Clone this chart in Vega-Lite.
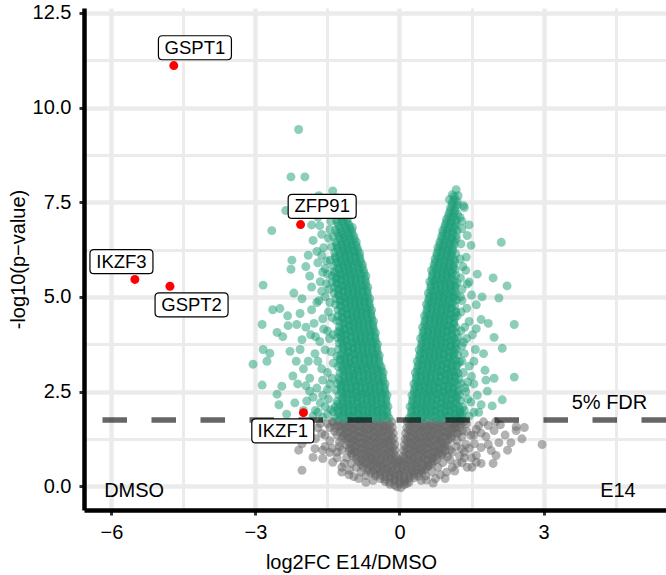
{
"$schema": "https://vega.github.io/schema/vega-lite/v6.json",
"width": 582, "height": 502,
"autosize": {"type": "none"},
"padding": {"left": 84, "top": 8, "right": 0, "bottom": 65},
"background": "white",
"config": {"view": {"stroke": null}, "font": "Liberation Sans"},
"datasets": {
"pts": [
{"x":-0.16,"y":1.7},{"x":-0.26,"y":1.73},{"x":-0.36,"y":1.68},{"x":-0.46,"y":1.72},{"x":-0.56,"y":1.67},{"x":-0.66,"y":1.71},{"x":-0.76,"y":1.69},{"x":-0.86,"y":1.73},{"x":-0.96,"y":1.68},{"x":-1.06,"y":1.71},{"x":-1.16,"y":1.67},{"x":-1.27,"y":1.72},{"x":-1.38,"y":1.69},
{"x":0.16,"y":1.71},{"x":0.26,"y":1.68},{"x":0.36,"y":1.73},{"x":0.46,"y":1.69},{"x":0.56,"y":1.72},{"x":0.66,"y":1.67},{"x":0.76,"y":1.71},{"x":0.86,"y":1.68},{"x":0.96,"y":1.73},{"x":1.06,"y":1.7},{"x":1.16,"y":1.67},{"x":1.26,"y":1.72},
{"x":-0.21,"y":1.62},{"x":-0.31,"y":1.6},{"x":-0.41,"y":1.64},{"x":-0.51,"y":1.61},{"x":-0.61,"y":1.63},{"x":-0.71,"y":1.59},{"x":-0.81,"y":1.63},{"x":-0.91,"y":1.6},{"x":-1.01,"y":1.64},{"x":-1.11,"y":1.61},{"x":-1.21,"y":1.62},
{"x":0.21,"y":1.61},{"x":0.31,"y":1.64},{"x":0.41,"y":1.6},{"x":0.51,"y":1.63},{"x":0.61,"y":1.59},{"x":0.71,"y":1.62},{"x":0.81,"y":1.64},{"x":0.91,"y":1.6},{"x":1.01,"y":1.63},{"x":1.11,"y":1.61},{"x":1.2,"y":1.64},
{"x":-0.15,"y":1.55},{"x":-0.25,"y":1.53},{"x":-0.35,"y":1.57},{"x":-0.45,"y":1.54},{"x":-0.55,"y":1.56},{"x":-0.65,"y":1.52},{"x":-0.75,"y":1.55},{"x":-0.85,"y":1.57},{"x":-0.95,"y":1.53},{"x":-1.05,"y":1.56},{"x":-1.15,"y":1.54},{"x":-1.25,"y":1.57},
{"x":0.15,"y":1.54},{"x":0.25,"y":1.57},{"x":0.35,"y":1.53},{"x":0.45,"y":1.56},{"x":0.55,"y":1.54},{"x":0.65,"y":1.57},{"x":0.75,"y":1.52},{"x":0.85,"y":1.55},{"x":0.95,"y":1.57},{"x":1.05,"y":1.53},{"x":1.15,"y":1.56},
{"x":-0.19,"y":1.47},{"x":-0.29,"y":1.49},{"x":-0.39,"y":1.45},{"x":-0.49,"y":1.48},{"x":-0.59,"y":1.46},{"x":-0.69,"y":1.49},{"x":-0.79,"y":1.45},{"x":-0.89,"y":1.47},{"x":-0.99,"y":1.49},{"x":-1.09,"y":1.46},{"x":-1.19,"y":1.48},
{"x":0.19,"y":1.48},{"x":0.29,"y":1.45},{"x":0.39,"y":1.49},{"x":0.49,"y":1.46},{"x":0.59,"y":1.48},{"x":0.69,"y":1.45},{"x":0.79,"y":1.49},{"x":0.89,"y":1.47},{"x":0.99,"y":1.45},{"x":1.09,"y":1.48},
{"x":-0.13,"y":1.4},{"x":-0.23,"y":1.38},{"x":-0.33,"y":1.42},{"x":-0.43,"y":1.39},{"x":-0.53,"y":1.41},{"x":-0.63,"y":1.37},{"x":-0.73,"y":1.4},{"x":-0.83,"y":1.42},{"x":-0.93,"y":1.38},{"x":-1.03,"y":1.41},{"x":-1.13,"y":1.39},{"x":-1.23,"y":1.42},
{"x":0.13,"y":1.39},{"x":0.23,"y":1.42},{"x":0.33,"y":1.38},{"x":0.43,"y":1.41},{"x":0.53,"y":1.4},{"x":0.63,"y":1.37},{"x":0.73,"y":1.41},{"x":0.83,"y":1.39},{"x":0.93,"y":1.42},{"x":1.03,"y":1.38},{"x":1.13,"y":1.4},
{"x":-0.17,"y":1.32},{"x":-0.27,"y":1.3},{"x":-0.37,"y":1.34},{"x":-0.47,"y":1.31},{"x":-0.57,"y":1.33},{"x":-0.67,"y":1.3},{"x":-0.77,"y":1.34},{"x":-0.87,"y":1.31},{"x":-0.97,"y":1.33},{"x":-1.07,"y":1.3},{"x":-1.17,"y":1.33},
{"x":0.17,"y":1.31},{"x":0.27,"y":1.34},{"x":0.37,"y":1.3},{"x":0.47,"y":1.33},{"x":0.57,"y":1.31},{"x":0.67,"y":1.34},{"x":0.77,"y":1.3},{"x":0.87,"y":1.32},{"x":0.97,"y":1.34},{"x":1.07,"y":1.31},
{"x":-0.12,"y":1.25},{"x":-0.22,"y":1.23},{"x":-0.32,"y":1.27},{"x":-0.42,"y":1.24},{"x":-0.52,"y":1.26},{"x":-0.62,"y":1.22},{"x":-0.72,"y":1.25},{"x":-0.82,"y":1.27},{"x":-0.92,"y":1.23},{"x":-1.02,"y":1.26},{"x":-1.12,"y":1.24},{"x":-1.2,"y":1.27},
{"x":0.12,"y":1.24},{"x":0.22,"y":1.27},{"x":0.32,"y":1.23},{"x":0.42,"y":1.26},{"x":0.52,"y":1.24},{"x":0.62,"y":1.27},{"x":0.72,"y":1.22},{"x":0.82,"y":1.25},{"x":0.92,"y":1.27},{"x":1.02,"y":1.23},{"x":1.08,"y":1.26},
{"x":-0.16,"y":1.17},{"x":-0.26,"y":1.19},{"x":-0.36,"y":1.15},{"x":-0.46,"y":1.18},{"x":-0.56,"y":1.16},{"x":-0.66,"y":1.19},{"x":-0.76,"y":1.15},{"x":-0.86,"y":1.17},{"x":-0.96,"y":1.19},{"x":-1.06,"y":1.16},
{"x":0.16,"y":1.18},{"x":0.26,"y":1.15},{"x":0.36,"y":1.19},{"x":0.46,"y":1.16},{"x":0.56,"y":1.18},{"x":0.66,"y":1.15},{"x":0.76,"y":1.19},{"x":0.86,"y":1.17},{"x":0.96,"y":1.15},
{"x":-0.1,"y":1.1},{"x":-0.2,"y":1.08},{"x":-0.3,"y":1.12},{"x":-0.4,"y":1.09},{"x":-0.5,"y":1.11},{"x":-0.6,"y":1.07},{"x":-0.7,"y":1.1},{"x":-0.8,"y":1.12},{"x":-0.9,"y":1.08},{"x":-1.0,"y":1.11},{"x":-1.1,"y":1.09},
{"x":0.1,"y":1.09},{"x":0.2,"y":1.12},{"x":0.3,"y":1.08},{"x":0.4,"y":1.11},{"x":0.5,"y":1.09},{"x":0.6,"y":1.12},{"x":0.7,"y":1.07},{"x":0.8,"y":1.1},{"x":0.9,"y":1.12},{"x":1.0,"y":1.08},
{"x":-0.14,"y":1.02},{"x":-0.24,"y":1.0},{"x":-0.34,"y":1.04},{"x":-0.44,"y":1.01},{"x":-0.54,"y":1.03},{"x":-0.64,"y":1.0},{"x":-0.74,"y":1.04},{"x":-0.84,"y":1.01},{"x":-0.94,"y":1.03},{"x":-1.04,"y":1.0},
{"x":0.14,"y":1.01},{"x":0.24,"y":1.04},{"x":0.34,"y":1.0},{"x":0.44,"y":1.03},{"x":0.54,"y":1.01},{"x":0.64,"y":1.04},{"x":0.74,"y":1.0},{"x":0.84,"y":1.02},{"x":0.94,"y":1.04},
{"x":-0.09,"y":0.95},{"x":-0.19,"y":0.93},{"x":-0.29,"y":0.97},{"x":-0.39,"y":0.94},{"x":-0.49,"y":0.96},{"x":-0.59,"y":0.92},{"x":-0.69,"y":0.95},{"x":-0.79,"y":0.97},{"x":-0.89,"y":0.93},{"x":-0.99,"y":0.96},{"x":-1.05,"y":0.94},
{"x":0.09,"y":0.94},{"x":0.19,"y":0.97},{"x":0.29,"y":0.93},{"x":0.39,"y":0.96},{"x":0.49,"y":0.94},{"x":0.59,"y":0.97},{"x":0.69,"y":0.92},{"x":0.79,"y":0.95},{"x":0.89,"y":0.97},{"x":0.95,"y":0.93},
{"x":-0.13,"y":0.87},{"x":-0.23,"y":0.89},{"x":-0.33,"y":0.85},{"x":-0.43,"y":0.88},{"x":-0.53,"y":0.86},{"x":-0.63,"y":0.89},{"x":-0.73,"y":0.85},{"x":-0.83,"y":0.87},{"x":-0.93,"y":0.89},{"x":-1.0,"y":0.86},
{"x":0.13,"y":0.88},{"x":0.23,"y":0.85},{"x":0.33,"y":0.89},{"x":0.43,"y":0.86},{"x":0.53,"y":0.88},{"x":0.63,"y":0.85},{"x":0.73,"y":0.89},{"x":0.83,"y":0.87},{"x":0.9,"y":0.85},
{"x":-0.08,"y":0.8},{"x":-0.18,"y":0.78},{"x":-0.28,"y":0.82},{"x":-0.38,"y":0.79},{"x":-0.48,"y":0.81},{"x":-0.58,"y":0.77},{"x":-0.68,"y":0.8},{"x":-0.78,"y":0.82},{"x":-0.88,"y":0.78},{"x":-0.98,"y":0.81},
{"x":0.08,"y":0.79},{"x":0.18,"y":0.82},{"x":0.28,"y":0.78},{"x":0.38,"y":0.81},{"x":0.48,"y":0.79},{"x":0.58,"y":0.82},{"x":0.68,"y":0.77},{"x":0.78,"y":0.8},{"x":0.88,"y":0.82},
{"x":-0.9,"y":0.72},{"x":-0.8,"y":0.7},{"x":-0.7,"y":0.74},{"x":-0.6,"y":0.71},{"x":-0.5,"y":0.73},{"x":-0.4,"y":0.7},{"x":-0.3,"y":0.74},{"x":-0.2,"y":0.71},{"x":-0.1,"y":0.73},{"x":0.0,"y":0.7},{"x":0.1,"y":0.73},{"x":0.2,"y":0.71},{"x":0.3,"y":0.74},{"x":0.4,"y":0.7},{"x":0.5,"y":0.73},{"x":0.6,"y":0.71},{"x":0.7,"y":0.74},{"x":0.78,"y":0.71},
{"x":-0.85,"y":0.65},{"x":-0.75,"y":0.63},{"x":-0.65,"y":0.67},{"x":-0.55,"y":0.64},{"x":-0.45,"y":0.66},{"x":-0.35,"y":0.62},{"x":-0.25,"y":0.65},{"x":-0.15,"y":0.67},{"x":-0.05,"y":0.63},{"x":0.05,"y":0.66},{"x":0.15,"y":0.64},{"x":0.25,"y":0.67},{"x":0.35,"y":0.62},{"x":0.45,"y":0.65},{"x":0.55,"y":0.67},{"x":0.65,"y":0.63},{"x":0.72,"y":0.66},
{"x":-0.8,"y":0.57},{"x":-0.7,"y":0.59},{"x":-0.6,"y":0.55},{"x":-0.5,"y":0.58},{"x":-0.4,"y":0.56},{"x":-0.3,"y":0.59},{"x":-0.2,"y":0.55},{"x":-0.1,"y":0.57},{"x":0.0,"y":0.59},{"x":0.1,"y":0.56},{"x":0.2,"y":0.58},{"x":0.3,"y":0.55},{"x":0.4,"y":0.59},{"x":0.5,"y":0.57},{"x":0.6,"y":0.55},{"x":0.67,"y":0.58},
{"x":-0.75,"y":0.5},{"x":-0.65,"y":0.48},{"x":-0.55,"y":0.52},{"x":-0.45,"y":0.49},{"x":-0.35,"y":0.51},{"x":-0.25,"y":0.47},{"x":-0.15,"y":0.5},{"x":-0.05,"y":0.52},{"x":0.05,"y":0.48},{"x":0.15,"y":0.51},{"x":0.25,"y":0.49},{"x":0.35,"y":0.52},{"x":0.45,"y":0.47},{"x":0.55,"y":0.5},{"x":0.6,"y":0.52},
{"x":-0.65,"y":0.42},{"x":-0.55,"y":0.4},{"x":-0.45,"y":0.44},{"x":-0.35,"y":0.41},{"x":-0.25,"y":0.43},{"x":-0.15,"y":0.4},{"x":-0.05,"y":0.44},{"x":0.05,"y":0.41},{"x":0.15,"y":0.43},{"x":0.25,"y":0.4},{"x":0.35,"y":0.44},{"x":0.45,"y":0.41},{"x":0.53,"y":0.43},
{"x":-0.6,"y":0.35},{"x":-0.5,"y":0.33},{"x":-0.4,"y":0.37},{"x":-0.3,"y":0.34},{"x":-0.2,"y":0.36},{"x":-0.1,"y":0.32},{"x":0.0,"y":0.35},{"x":0.1,"y":0.37},{"x":0.2,"y":0.33},{"x":0.3,"y":0.36},{"x":0.4,"y":0.34},{"x":0.47,"y":0.36},
{"x":-0.5,"y":0.27},{"x":-0.4,"y":0.29},{"x":-0.3,"y":0.25},{"x":-0.2,"y":0.28},{"x":-0.1,"y":0.26},{"x":0.0,"y":0.29},{"x":0.1,"y":0.25},{"x":0.2,"y":0.27},{"x":0.3,"y":0.29},{"x":0.4,"y":0.26},
{"x":-0.4,"y":0.2},{"x":-0.3,"y":0.18},{"x":-0.2,"y":0.22},{"x":-0.1,"y":0.19},{"x":0.0,"y":0.21},{"x":0.1,"y":0.17},{"x":0.2,"y":0.2},{"x":0.3,"y":0.22},
{"x":-0.3,"y":0.12},{"x":-0.2,"y":0.1},{"x":-0.1,"y":0.14},{"x":0.0,"y":0.11},{"x":0.1,"y":0.13},{"x":0.2,"y":0.1},
{"x":-0.2,"y":0.05},{"x":-0.1,"y":0.03},{"x":0.0,"y":0.06},{"x":0.1,"y":0.04},{"x":0.15,"y":0.07},
{"x":-0.05,"y":-0.02},{"x":0.03,"y":-0.04},
{"x":-1.35,"y":1.55},{"x":-1.3,"y":1.35},{"x":-1.25,"y":1.15},{"x":-1.2,"y":0.95},{"x":-1.1,"y":0.75},{"x":-1.0,"y":0.6},{"x":-0.9,"y":0.5},{"x":-0.8,"y":0.38},{"x":-0.7,"y":0.28},{"x":-0.55,"y":0.15},
{"x":1.25,"y":1.55},{"x":1.22,"y":1.4},{"x":1.18,"y":1.05},{"x":1.1,"y":0.9},{"x":1.0,"y":0.78},{"x":0.9,"y":0.62},{"x":0.8,"y":0.5},{"x":0.68,"y":0.38},{"x":0.55,"y":0.27},{"x":0.45,"y":0.15},{"x":1.35,"y":1.7},{"x":1.28,"y":1.62},
{"x":-2.03,"y":0.42},{"x":-1.8,"y":0.76},{"x":-1.6,"y":0.73},{"x":-1.76,"y":0.99},{"x":-2.03,"y":1.12},{"x":-1.39,"y":0.63},{"x":-1.2,"y":0.37},{"x":-1.04,"y":0.42},{"x":-1.45,"y":0.89},{"x":-1.62,"y":1.39},{"x":-1.7,"y":1.54},{"x":-1.45,"y":1.2},{"x":-1.3,"y":0.9},{"x":-1.5,"y":1.65},{"x":-1.9,"y":1.3},{"x":-2.2,"y":1.6},{"x":-1.15,"y":0.6},{"x":-1.35,"y":1.45},{"x":-0.95,"y":0.25},{"x":-1.25,"y":1.05},{"x":-1.55,"y":1.05},{"x":-1.3,"y":1.6},{"x":-1.4,"y":1.7},{"x":-1.85,"y":1.68},
{"x":2.97,"y":1.1},{"x":2.43,"y":1.57},{"x":2.43,"y":1.47},{"x":2.32,"y":1.15},{"x":2.07,"y":1.15},{"x":1.97,"y":1.47},{"x":1.8,"y":1.31},{"x":1.91,"y":0.94},{"x":2.01,"y":0.81},{"x":1.6,"y":0.81},{"x":1.6,"y":0.63},{"x":1.41,"y":0.5},{"x":1.51,"y":0.5},{"x":1.1,"y":0.5},{"x":0.98,"y":0.37},{"x":1.7,"y":1.02},{"x":1.56,"y":1.12},{"x":1.29,"y":0.99},{"x":1.49,"y":1.34},{"x":1.31,"y":1.47},{"x":1.14,"y":1.54},{"x":0.56,"y":0.16},{"x":1.4,"y":1.65},{"x":1.65,"y":1.6},{"x":1.2,"y":1.2},{"x":1.35,"y":0.75},{"x":0.85,"y":0.3},{"x":1.05,"y":0.7},{"x":1.2,"y":0.6},{"x":0.75,"y":0.2},{"x":1.85,"y":1.6},{"x":2.1,"y":1.62},{"x":1.75,"y":1.7},{"x":1.3,"y":1.3},{"x":1.38,"y":1.1},{"x":1.25,"y":0.8},
{"x":-1.45,"y":1.55},{"x":-1.55,"y":1.35},{"x":-1.4,"y":1.0},{"x":-1.3,"y":0.75},{"x":-1.6,"y":0.95},{"x":-1.75,"y":1.25},{"x":-1.95,"y":1.5},{"x":-2.1,"y":0.95},{"x":-1.65,"y":1.65},{"x":-1.2,"y":0.5},{"x":-1.05,"y":0.3},{"x":-0.85,"y":0.2},{"x":-0.7,"y":0.1},{"x":-2.3,"y":1.3},
{"x":1.4,"y":1.45},{"x":1.55,"y":1.35},{"x":1.45,"y":1.0},{"x":1.5,"y":0.75},{"x":1.3,"y":0.62},{"x":1.15,"y":0.4},{"x":0.95,"y":0.2},{"x":0.7,"y":0.08},{"x":1.7,"y":1.4},{"x":1.85,"y":1.1},{"x":2.2,"y":1.35},{"x":2.25,"y":0.95},{"x":2.55,"y":1.25},{"x":2.6,"y":1.55},{"x":1.7,"y":0.6},{"x":1.95,"y":0.6},{"x":1.6,"y":1.5},{"x":2.0,"y":1.7},{"x":1.35,"y":0.9},{"x":1.05,"y":0.95},{"x":1.2,"y":1.4},
{"x":-0.22,"y":1.8},{"x":-0.32,"y":1.84},{"x":-0.42,"y":1.78},{"x":-0.52,"y":1.82},{"x":-0.62,"y":1.79},{"x":-0.72,"y":1.83},{"x":-0.82,"y":1.77},{"x":-0.92,"y":1.81},{"x":-1.02,"y":1.84},{"x":-1.12,"y":1.78},{"x":-1.22,"y":1.82},{"x":-1.33,"y":1.8},
{"x":-0.26,"y":1.95},{"x":-0.36,"y":1.93},{"x":-0.46,"y":1.97},{"x":-0.56,"y":1.94},{"x":-0.66,"y":1.96},{"x":-0.76,"y":1.92},{"x":-0.86,"y":1.95},{"x":-0.96,"y":1.97},{"x":-1.06,"y":1.93},{"x":-1.16,"y":1.96},{"x":-1.27,"y":1.94},{"x":-1.38,"y":1.97},
{"x":-0.24,"y":2.1},{"x":-0.34,"y":2.12},{"x":-0.44,"y":2.08},{"x":-0.54,"y":2.11},{"x":-0.64,"y":2.09},{"x":-0.74,"y":2.12},{"x":-0.84,"y":2.07},{"x":-0.94,"y":2.1},{"x":-1.04,"y":2.12},{"x":-1.14,"y":2.08},{"x":-1.24,"y":2.11},{"x":-1.34,"y":2.09},
{"x":-0.28,"y":2.25},{"x":-0.38,"y":2.23},{"x":-0.48,"y":2.27},{"x":-0.58,"y":2.24},{"x":-0.68,"y":2.26},{"x":-0.78,"y":2.22},{"x":-0.88,"y":2.25},{"x":-0.98,"y":2.27},{"x":-1.08,"y":2.23},{"x":-1.18,"y":2.26},{"x":-1.3,"y":2.24},
{"x":-0.26,"y":2.4},{"x":-0.36,"y":2.42},{"x":-0.46,"y":2.38},{"x":-0.56,"y":2.41},{"x":-0.66,"y":2.39},{"x":-0.76,"y":2.42},{"x":-0.86,"y":2.37},{"x":-0.96,"y":2.4},{"x":-1.06,"y":2.42},{"x":-1.16,"y":2.38},{"x":-1.26,"y":2.41},
{"x":-0.31,"y":2.55},{"x":-0.41,"y":2.53},{"x":-0.51,"y":2.57},{"x":-0.61,"y":2.54},{"x":-0.71,"y":2.56},{"x":-0.81,"y":2.52},{"x":-0.91,"y":2.55},{"x":-1.01,"y":2.57},{"x":-1.11,"y":2.53},{"x":-1.21,"y":2.56},{"x":-1.32,"y":2.54},
{"x":-0.3,"y":2.7},{"x":-0.4,"y":2.72},{"x":-0.5,"y":2.68},{"x":-0.6,"y":2.71},{"x":-0.7,"y":2.69},{"x":-0.8,"y":2.72},{"x":-0.9,"y":2.67},{"x":-1.0,"y":2.7},{"x":-1.1,"y":2.72},{"x":-1.2,"y":2.68},{"x":-1.29,"y":2.71},
{"x":-0.35,"y":2.85},{"x":-0.45,"y":2.83},{"x":-0.55,"y":2.87},{"x":-0.65,"y":2.84},{"x":-0.75,"y":2.86},{"x":-0.85,"y":2.82},{"x":-0.95,"y":2.85},{"x":-1.05,"y":2.87},{"x":-1.15,"y":2.83},{"x":-1.26,"y":2.86},
{"x":-0.34,"y":3.0},{"x":-0.44,"y":3.02},{"x":-0.54,"y":2.98},{"x":-0.64,"y":3.01},{"x":-0.74,"y":2.99},{"x":-0.84,"y":3.02},{"x":-0.94,"y":2.97},{"x":-1.04,"y":3.0},{"x":-1.14,"y":3.02},{"x":-1.24,"y":2.98},
{"x":-0.38,"y":3.15},{"x":-0.48,"y":3.13},{"x":-0.58,"y":3.17},{"x":-0.68,"y":3.14},{"x":-0.78,"y":3.16},{"x":-0.88,"y":3.12},{"x":-0.98,"y":3.15},{"x":-1.08,"y":3.17},{"x":-1.18,"y":3.13},{"x":-1.28,"y":3.16},
{"x":-0.43,"y":3.3},{"x":-0.53,"y":3.32},{"x":-0.63,"y":3.28},{"x":-0.73,"y":3.31},{"x":-0.83,"y":3.29},{"x":-0.93,"y":3.32},{"x":-1.03,"y":3.27},{"x":-1.13,"y":3.3},{"x":-1.23,"y":3.32},
{"x":-0.42,"y":3.45},{"x":-0.52,"y":3.47},{"x":-0.62,"y":3.43},{"x":-0.72,"y":3.46},{"x":-0.82,"y":3.44},{"x":-0.92,"y":3.47},{"x":-1.02,"y":3.42},{"x":-1.12,"y":3.45},{"x":-1.22,"y":3.47},{"x":-1.3,"y":3.43},
{"x":-0.47,"y":3.6},{"x":-0.57,"y":3.62},{"x":-0.67,"y":3.58},{"x":-0.77,"y":3.61},{"x":-0.87,"y":3.59},{"x":-0.97,"y":3.62},{"x":-1.07,"y":3.57},{"x":-1.17,"y":3.6},{"x":-1.27,"y":3.62},
{"x":-0.46,"y":3.75},{"x":-0.56,"y":3.77},{"x":-0.66,"y":3.73},{"x":-0.76,"y":3.76},{"x":-0.86,"y":3.74},{"x":-0.96,"y":3.77},{"x":-1.06,"y":3.72},{"x":-1.16,"y":3.75},{"x":-1.25,"y":3.77},
{"x":-0.51,"y":3.9},{"x":-0.61,"y":3.92},{"x":-0.71,"y":3.88},{"x":-0.81,"y":3.91},{"x":-0.91,"y":3.89},{"x":-1.01,"y":3.92},{"x":-1.11,"y":3.87},{"x":-1.21,"y":3.9},{"x":-1.29,"y":3.92},
{"x":-0.5,"y":4.05},{"x":-0.6,"y":4.07},{"x":-0.7,"y":4.03},{"x":-0.8,"y":4.06},{"x":-0.9,"y":4.04},{"x":-1.0,"y":4.07},{"x":-1.1,"y":4.02},{"x":-1.2,"y":4.05},{"x":-1.28,"y":4.07},
{"x":-0.55,"y":4.2},{"x":-0.65,"y":4.22},{"x":-0.75,"y":4.18},{"x":-0.85,"y":4.21},{"x":-0.95,"y":4.19},{"x":-1.05,"y":4.22},{"x":-1.15,"y":4.17},{"x":-1.25,"y":4.2},
{"x":-0.54,"y":4.35},{"x":-0.64,"y":4.37},{"x":-0.74,"y":4.33},{"x":-0.84,"y":4.36},{"x":-0.94,"y":4.34},{"x":-1.04,"y":4.37},{"x":-1.14,"y":4.32},{"x":-1.24,"y":4.35},{"x":-1.31,"y":4.37},
{"x":-0.59,"y":4.5},{"x":-0.69,"y":4.52},{"x":-0.79,"y":4.48},{"x":-0.89,"y":4.51},{"x":-0.99,"y":4.49},{"x":-1.09,"y":4.52},{"x":-1.19,"y":4.47},{"x":-1.28,"y":4.5},
{"x":-0.58,"y":4.65},{"x":-0.68,"y":4.67},{"x":-0.78,"y":4.63},{"x":-0.88,"y":4.66},{"x":-0.98,"y":4.64},{"x":-1.08,"y":4.67},{"x":-1.18,"y":4.62},{"x":-1.28,"y":4.65},
{"x":-0.63,"y":4.8},{"x":-0.73,"y":4.82},{"x":-0.83,"y":4.78},{"x":-0.93,"y":4.81},{"x":-1.03,"y":4.79},{"x":-1.13,"y":4.82},{"x":-1.23,"y":4.77},{"x":-1.33,"y":4.8},
{"x":-0.62,"y":4.95},{"x":-0.72,"y":4.97},{"x":-0.82,"y":4.93},{"x":-0.92,"y":4.96},{"x":-1.02,"y":4.94},{"x":-1.12,"y":4.97},{"x":-1.22,"y":4.92},{"x":-1.32,"y":4.95},
{"x":-0.67,"y":5.1},{"x":-0.77,"y":5.12},{"x":-0.87,"y":5.08},{"x":-0.97,"y":5.11},{"x":-1.07,"y":5.09},{"x":-1.17,"y":5.12},{"x":-1.27,"y":5.07},{"x":-1.36,"y":5.1},
{"x":-0.66,"y":5.25},{"x":-0.76,"y":5.27},{"x":-0.86,"y":5.23},{"x":-0.96,"y":5.26},{"x":-1.06,"y":5.24},{"x":-1.16,"y":5.27},{"x":-1.26,"y":5.22},{"x":-1.36,"y":5.25},
{"x":-0.71,"y":5.4},{"x":-0.81,"y":5.42},{"x":-0.91,"y":5.38},{"x":-1.01,"y":5.41},{"x":-1.11,"y":5.39},{"x":-1.21,"y":5.42},{"x":-1.31,"y":5.37},{"x":-1.4,"y":5.4},
{"x":-0.7,"y":5.55},{"x":-0.8,"y":5.57},{"x":-0.9,"y":5.53},{"x":-1.0,"y":5.56},{"x":-1.1,"y":5.54},{"x":-1.2,"y":5.57},{"x":-1.3,"y":5.52},{"x":-1.4,"y":5.55},
{"x":-0.75,"y":5.7},{"x":-0.85,"y":5.72},{"x":-0.95,"y":5.68},{"x":-1.05,"y":5.71},{"x":-1.15,"y":5.69},{"x":-1.25,"y":5.72},{"x":-1.36,"y":5.67},
{"x":-0.77,"y":5.85},{"x":-0.87,"y":5.87},{"x":-0.97,"y":5.83},{"x":-1.07,"y":5.86},{"x":-1.17,"y":5.84},{"x":-1.27,"y":5.87},{"x":-1.38,"y":5.82},
{"x":-0.82,"y":6.0},{"x":-0.92,"y":6.02},{"x":-1.02,"y":5.98},{"x":-1.12,"y":6.01},{"x":-1.22,"y":5.99},{"x":-1.33,"y":6.02},{"x":-1.44,"y":5.97},
{"x":-0.83,"y":6.15},{"x":-0.93,"y":6.17},{"x":-1.03,"y":6.13},{"x":-1.13,"y":6.16},{"x":-1.23,"y":6.14},{"x":-1.35,"y":6.17},
{"x":-0.88,"y":6.3},{"x":-0.98,"y":6.32},{"x":-1.08,"y":6.28},{"x":-1.18,"y":6.31},{"x":-1.29,"y":6.29},{"x":-1.41,"y":6.32},
{"x":-0.9,"y":6.45},{"x":-1.0,"y":6.47},{"x":-1.1,"y":6.43},{"x":-1.2,"y":6.46},{"x":-1.32,"y":6.44},
{"x":-0.95,"y":6.6},{"x":-1.05,"y":6.62},{"x":-1.15,"y":6.58},{"x":-1.26,"y":6.61},{"x":-1.38,"y":6.59},
{"x":-1.0,"y":6.75},{"x":-1.1,"y":6.77},{"x":-1.21,"y":6.73},{"x":-1.33,"y":6.76},
{"x":-1.05,"y":6.9},{"x":-1.15,"y":6.92},{"x":-1.27,"y":6.88},
{"x":-1.09,"y":7.05},{"x":-1.19,"y":7.07},{"x":-1.31,"y":7.03},
{"x":-1.14,"y":7.2},{"x":-1.25,"y":7.22},
{"x":-1.18,"y":7.35},{"x":-1.3,"y":7.37},
{"x":-1.22,"y":7.5},{"x":-1.3,"y":7.62},
{"x":-0.26,"y":1.87},{"x":-0.36,"y":1.88},{"x":-0.46,"y":1.86},{"x":-0.56,"y":1.88},{"x":-0.66,"y":1.87},{"x":-0.76,"y":1.86},{"x":-0.86,"y":1.88},{"x":-0.96,"y":1.87},{"x":-1.06,"y":1.86},{"x":-1.16,"y":1.88},{"x":-1.26,"y":1.87},
{"x":-0.27,"y":2.02},{"x":-0.37,"y":2.03},{"x":-0.47,"y":2.01},{"x":-0.57,"y":2.03},{"x":-0.67,"y":2.02},{"x":-0.77,"y":2.01},{"x":-0.87,"y":2.03},{"x":-0.97,"y":2.02},{"x":-1.07,"y":2.01},{"x":-1.17,"y":2.03},{"x":-1.27,"y":2.02},
{"x":-0.28,"y":2.17},{"x":-0.38,"y":2.18},{"x":-0.48,"y":2.16},{"x":-0.58,"y":2.18},{"x":-0.68,"y":2.17},{"x":-0.78,"y":2.16},{"x":-0.88,"y":2.18},{"x":-0.98,"y":2.17},{"x":-1.08,"y":2.16},{"x":-1.18,"y":2.18},{"x":-1.28,"y":2.17},
{"x":-0.29,"y":2.32},{"x":-0.39,"y":2.33},{"x":-0.49,"y":2.31},{"x":-0.59,"y":2.33},{"x":-0.69,"y":2.32},{"x":-0.79,"y":2.31},{"x":-0.89,"y":2.33},{"x":-0.99,"y":2.32},{"x":-1.09,"y":2.31},{"x":-1.19,"y":2.33},
{"x":-0.3,"y":2.47},{"x":-0.4,"y":2.48},{"x":-0.5,"y":2.46},{"x":-0.6,"y":2.48},{"x":-0.7,"y":2.47},{"x":-0.8,"y":2.46},{"x":-0.9,"y":2.48},{"x":-1.0,"y":2.47},{"x":-1.1,"y":2.46},{"x":-1.2,"y":2.48},
{"x":-0.32,"y":2.62},{"x":-0.42,"y":2.63},{"x":-0.52,"y":2.61},{"x":-0.62,"y":2.63},{"x":-0.72,"y":2.62},{"x":-0.82,"y":2.61},{"x":-0.92,"y":2.63},{"x":-1.02,"y":2.62},{"x":-1.12,"y":2.61},{"x":-1.22,"y":2.63},
{"x":-0.34,"y":2.77},{"x":-0.44,"y":2.78},{"x":-0.54,"y":2.76},{"x":-0.64,"y":2.78},{"x":-0.74,"y":2.77},{"x":-0.84,"y":2.76},{"x":-0.94,"y":2.78},{"x":-1.04,"y":2.77},{"x":-1.14,"y":2.76},{"x":-1.24,"y":2.78},
{"x":-0.36,"y":2.92},{"x":-0.46,"y":2.93},{"x":-0.56,"y":2.91},{"x":-0.66,"y":2.93},{"x":-0.76,"y":2.92},{"x":-0.86,"y":2.91},{"x":-0.96,"y":2.93},{"x":-1.06,"y":2.92},{"x":-1.16,"y":2.91},
{"x":-0.38,"y":3.07},{"x":-0.48,"y":3.08},{"x":-0.58,"y":3.06},{"x":-0.68,"y":3.08},{"x":-0.78,"y":3.07},{"x":-0.88,"y":3.06},{"x":-0.98,"y":3.08},{"x":-1.08,"y":3.07},{"x":-1.18,"y":3.06},
{"x":-0.42,"y":3.22},{"x":-0.52,"y":3.23},{"x":-0.62,"y":3.21},{"x":-0.72,"y":3.23},{"x":-0.82,"y":3.22},{"x":-0.92,"y":3.21},{"x":-1.02,"y":3.23},{"x":-1.12,"y":3.22},{"x":-1.22,"y":3.21},
{"x":-0.44,"y":3.37},{"x":-0.54,"y":3.38},{"x":-0.64,"y":3.36},{"x":-0.74,"y":3.38},{"x":-0.84,"y":3.37},{"x":-0.94,"y":3.36},{"x":-1.04,"y":3.38},{"x":-1.14,"y":3.37},{"x":-1.24,"y":3.36},
{"x":-0.46,"y":3.52},{"x":-0.56,"y":3.53},{"x":-0.66,"y":3.51},{"x":-0.76,"y":3.53},{"x":-0.86,"y":3.52},{"x":-0.96,"y":3.51},{"x":-1.06,"y":3.53},{"x":-1.16,"y":3.52},
{"x":-0.48,"y":3.67},{"x":-0.58,"y":3.68},{"x":-0.68,"y":3.66},{"x":-0.78,"y":3.68},{"x":-0.88,"y":3.67},{"x":-0.98,"y":3.66},{"x":-1.08,"y":3.68},{"x":-1.18,"y":3.67},
{"x":-0.5,"y":3.82},{"x":-0.6,"y":3.83},{"x":-0.7,"y":3.81},{"x":-0.8,"y":3.83},{"x":-0.9,"y":3.82},{"x":-1.0,"y":3.81},{"x":-1.1,"y":3.83},{"x":-1.2,"y":3.82},
{"x":-0.52,"y":3.97},{"x":-0.62,"y":3.98},{"x":-0.72,"y":3.96},{"x":-0.82,"y":3.98},{"x":-0.92,"y":3.97},{"x":-1.02,"y":3.96},{"x":-1.12,"y":3.98},{"x":-1.22,"y":3.97},
{"x":-0.54,"y":4.12},{"x":-0.64,"y":4.13},{"x":-0.74,"y":4.11},{"x":-0.84,"y":4.13},{"x":-0.94,"y":4.12},{"x":-1.04,"y":4.11},{"x":-1.14,"y":4.13},{"x":-1.24,"y":4.12},
{"x":-0.56,"y":4.27},{"x":-0.66,"y":4.28},{"x":-0.76,"y":4.26},{"x":-0.86,"y":4.28},{"x":-0.96,"y":4.27},{"x":-1.06,"y":4.26},{"x":-1.16,"y":4.28},
{"x":-0.58,"y":4.42},{"x":-0.68,"y":4.43},{"x":-0.78,"y":4.41},{"x":-0.88,"y":4.43},{"x":-0.98,"y":4.42},{"x":-1.08,"y":4.41},{"x":-1.18,"y":4.43},
{"x":-0.6,"y":4.57},{"x":-0.7,"y":4.58},{"x":-0.8,"y":4.56},{"x":-0.9,"y":4.58},{"x":-1.0,"y":4.57},{"x":-1.1,"y":4.56},{"x":-1.2,"y":4.58},
{"x":-0.62,"y":4.72},{"x":-0.72,"y":4.73},{"x":-0.82,"y":4.71},{"x":-0.92,"y":4.73},{"x":-1.02,"y":4.72},{"x":-1.12,"y":4.71},{"x":-1.22,"y":4.73},
{"x":-0.64,"y":4.87},{"x":-0.74,"y":4.88},{"x":-0.84,"y":4.86},{"x":-0.94,"y":4.88},{"x":-1.04,"y":4.87},{"x":-1.14,"y":4.86},{"x":-1.24,"y":4.88},
{"x":-0.66,"y":5.02},{"x":-0.76,"y":5.03},{"x":-0.86,"y":5.01},{"x":-0.96,"y":5.03},{"x":-1.06,"y":5.02},{"x":-1.16,"y":5.01},{"x":-1.26,"y":5.03},
{"x":-0.68,"y":5.17},{"x":-0.78,"y":5.18},{"x":-0.88,"y":5.16},{"x":-0.98,"y":5.18},{"x":-1.08,"y":5.17},{"x":-1.18,"y":5.16},{"x":-1.28,"y":5.18},
{"x":-0.7,"y":5.32},{"x":-0.8,"y":5.33},{"x":-0.9,"y":5.31},{"x":-1.0,"y":5.33},{"x":-1.1,"y":5.32},{"x":-1.2,"y":5.31},{"x":-1.3,"y":5.33},
{"x":-0.72,"y":5.47},{"x":-0.82,"y":5.48},{"x":-0.92,"y":5.46},{"x":-1.02,"y":5.48},{"x":-1.12,"y":5.47},{"x":-1.22,"y":5.46},{"x":-1.32,"y":5.48},
{"x":-0.74,"y":5.62},{"x":-0.84,"y":5.63},{"x":-0.94,"y":5.61},{"x":-1.04,"y":5.63},{"x":-1.14,"y":5.62},{"x":-1.24,"y":5.61},{"x":-1.34,"y":5.63},
{"x":-0.78,"y":5.77},{"x":-0.88,"y":5.78},{"x":-0.98,"y":5.76},{"x":-1.08,"y":5.78},{"x":-1.18,"y":5.77},{"x":-1.28,"y":5.76},
{"x":-0.81,"y":5.92},{"x":-0.91,"y":5.93},{"x":-1.01,"y":5.91},{"x":-1.11,"y":5.93},{"x":-1.21,"y":5.92},{"x":-1.31,"y":5.91},
{"x":-0.84,"y":6.07},{"x":-0.94,"y":6.08},{"x":-1.04,"y":6.06},{"x":-1.14,"y":6.08},{"x":-1.24,"y":6.07},{"x":-1.34,"y":6.06},
{"x":-0.87,"y":6.22},{"x":-0.97,"y":6.23},{"x":-1.07,"y":6.21},{"x":-1.17,"y":6.23},{"x":-1.27,"y":6.22},
{"x":-0.91,"y":6.37},{"x":-1.01,"y":6.38},{"x":-1.11,"y":6.36},{"x":-1.21,"y":6.38},{"x":-1.31,"y":6.37},
{"x":-0.94,"y":6.52},{"x":-1.04,"y":6.53},{"x":-1.14,"y":6.51},{"x":-1.24,"y":6.53},
{"x":-0.99,"y":6.67},{"x":-1.09,"y":6.68},{"x":-1.19,"y":6.66},{"x":-1.29,"y":6.68},
{"x":-1.04,"y":6.82},{"x":-1.14,"y":6.83},{"x":-1.24,"y":6.81},
{"x":-1.09,"y":6.97},{"x":-1.19,"y":6.98},{"x":-1.29,"y":6.96},
{"x":-1.13,"y":7.12},{"x":-1.23,"y":7.13},
{"x":-1.18,"y":7.27},{"x":-1.28,"y":7.28},
{"x":-1.22,"y":7.42},
{"x":0.2,"y":1.8},{"x":0.3,"y":1.84},{"x":0.4,"y":1.78},{"x":0.5,"y":1.82},{"x":0.6,"y":1.79},{"x":0.7,"y":1.83},{"x":0.8,"y":1.77},{"x":0.9,"y":1.81},{"x":1.0,"y":1.84},{"x":1.1,"y":1.78},{"x":1.2,"y":1.82},{"x":1.3,"y":1.8},
{"x":0.25,"y":1.95},{"x":0.35,"y":1.97},{"x":0.45,"y":1.93},{"x":0.55,"y":1.96},{"x":0.65,"y":1.94},{"x":0.75,"y":1.97},{"x":0.85,"y":1.92},{"x":0.95,"y":1.95},{"x":1.05,"y":1.97},{"x":1.15,"y":1.93},{"x":1.26,"y":1.96},
{"x":0.22,"y":2.1},{"x":0.32,"y":2.12},{"x":0.42,"y":2.08},{"x":0.52,"y":2.11},{"x":0.62,"y":2.09},{"x":0.72,"y":2.12},{"x":0.82,"y":2.07},{"x":0.92,"y":2.1},{"x":1.02,"y":2.12},{"x":1.12,"y":2.08},{"x":1.22,"y":2.11},{"x":1.32,"y":2.09},
{"x":0.27,"y":2.25},{"x":0.37,"y":2.27},{"x":0.47,"y":2.23},{"x":0.57,"y":2.26},{"x":0.67,"y":2.24},{"x":0.77,"y":2.27},{"x":0.87,"y":2.22},{"x":0.97,"y":2.25},{"x":1.07,"y":2.27},{"x":1.17,"y":2.23},{"x":1.27,"y":2.26},
{"x":0.26,"y":2.4},{"x":0.36,"y":2.42},{"x":0.46,"y":2.38},{"x":0.56,"y":2.41},{"x":0.66,"y":2.39},{"x":0.76,"y":2.42},{"x":0.86,"y":2.37},{"x":0.96,"y":2.4},{"x":1.06,"y":2.42},{"x":1.16,"y":2.38},{"x":1.25,"y":2.41},
{"x":0.31,"y":2.55},{"x":0.41,"y":2.57},{"x":0.51,"y":2.53},{"x":0.61,"y":2.56},{"x":0.71,"y":2.54},{"x":0.81,"y":2.57},{"x":0.91,"y":2.52},{"x":1.01,"y":2.55},{"x":1.11,"y":2.57},{"x":1.21,"y":2.53},
{"x":0.3,"y":2.7},{"x":0.4,"y":2.72},{"x":0.5,"y":2.68},{"x":0.6,"y":2.71},{"x":0.7,"y":2.69},{"x":0.8,"y":2.72},{"x":0.9,"y":2.67},{"x":1.0,"y":2.7},{"x":1.1,"y":2.72},{"x":1.2,"y":2.68},{"x":1.28,"y":2.71},
{"x":0.35,"y":2.85},{"x":0.45,"y":2.87},{"x":0.55,"y":2.83},{"x":0.65,"y":2.86},{"x":0.75,"y":2.84},{"x":0.85,"y":2.87},{"x":0.95,"y":2.82},{"x":1.05,"y":2.85},{"x":1.15,"y":2.87},{"x":1.24,"y":2.83},
{"x":0.33,"y":3.0},{"x":0.43,"y":3.02},{"x":0.53,"y":2.98},{"x":0.63,"y":3.01},{"x":0.73,"y":2.99},{"x":0.83,"y":3.02},{"x":0.93,"y":2.97},{"x":1.03,"y":3.0},{"x":1.13,"y":3.02},{"x":1.22,"y":2.98},
{"x":0.38,"y":3.15},{"x":0.48,"y":3.17},{"x":0.58,"y":3.13},{"x":0.68,"y":3.16},{"x":0.78,"y":3.14},{"x":0.88,"y":3.17},{"x":0.98,"y":3.12},{"x":1.08,"y":3.15},{"x":1.18,"y":3.17},
{"x":0.37,"y":3.3},{"x":0.47,"y":3.32},{"x":0.57,"y":3.28},{"x":0.67,"y":3.31},{"x":0.77,"y":3.29},{"x":0.87,"y":3.32},{"x":0.97,"y":3.27},{"x":1.07,"y":3.3},{"x":1.17,"y":3.32},{"x":1.25,"y":3.28},
{"x":0.42,"y":3.45},{"x":0.52,"y":3.47},{"x":0.62,"y":3.43},{"x":0.72,"y":3.46},{"x":0.82,"y":3.44},{"x":0.92,"y":3.47},{"x":1.02,"y":3.42},{"x":1.12,"y":3.45},{"x":1.21,"y":3.47},
{"x":0.41,"y":3.6},{"x":0.51,"y":3.62},{"x":0.61,"y":3.58},{"x":0.71,"y":3.61},{"x":0.81,"y":3.59},{"x":0.91,"y":3.62},{"x":1.01,"y":3.57},{"x":1.11,"y":3.6},{"x":1.19,"y":3.62},
{"x":0.46,"y":3.75},{"x":0.56,"y":3.77},{"x":0.66,"y":3.73},{"x":0.76,"y":3.76},{"x":0.86,"y":3.74},{"x":0.96,"y":3.77},{"x":1.06,"y":3.72},{"x":1.16,"y":3.75},
{"x":0.44,"y":3.9},{"x":0.54,"y":3.92},{"x":0.64,"y":3.88},{"x":0.74,"y":3.91},{"x":0.84,"y":3.89},{"x":0.94,"y":3.92},{"x":1.04,"y":3.87},{"x":1.14,"y":3.9},{"x":1.22,"y":3.92},
{"x":0.49,"y":4.05},{"x":0.59,"y":4.07},{"x":0.69,"y":4.03},{"x":0.79,"y":4.06},{"x":0.89,"y":4.04},{"x":0.99,"y":4.07},{"x":1.09,"y":4.02},{"x":1.18,"y":4.05},
{"x":0.48,"y":4.2},{"x":0.58,"y":4.22},{"x":0.68,"y":4.18},{"x":0.78,"y":4.21},{"x":0.88,"y":4.19},{"x":0.98,"y":4.22},{"x":1.08,"y":4.17},{"x":1.17,"y":4.2},
{"x":0.53,"y":4.35},{"x":0.63,"y":4.37},{"x":0.73,"y":4.33},{"x":0.83,"y":4.36},{"x":0.93,"y":4.34},{"x":1.03,"y":4.37},{"x":1.13,"y":4.32},
{"x":0.52,"y":4.5},{"x":0.62,"y":4.52},{"x":0.72,"y":4.48},{"x":0.82,"y":4.51},{"x":0.92,"y":4.49},{"x":1.02,"y":4.52},{"x":1.12,"y":4.47},{"x":1.2,"y":4.5},
{"x":0.57,"y":4.65},{"x":0.67,"y":4.67},{"x":0.77,"y":4.63},{"x":0.87,"y":4.66},{"x":0.97,"y":4.64},{"x":1.07,"y":4.67},{"x":1.17,"y":4.62},
{"x":0.56,"y":4.8},{"x":0.66,"y":4.82},{"x":0.76,"y":4.78},{"x":0.86,"y":4.81},{"x":0.96,"y":4.79},{"x":1.06,"y":4.82},{"x":1.15,"y":4.77},
{"x":0.61,"y":4.95},{"x":0.71,"y":4.97},{"x":0.81,"y":4.93},{"x":0.91,"y":4.96},{"x":1.01,"y":4.94},{"x":1.11,"y":4.97},{"x":1.19,"y":4.92},
{"x":0.6,"y":5.1},{"x":0.7,"y":5.12},{"x":0.8,"y":5.08},{"x":0.9,"y":5.11},{"x":1.0,"y":5.09},{"x":1.1,"y":5.12},{"x":1.18,"y":5.07},
{"x":0.65,"y":5.25},{"x":0.75,"y":5.27},{"x":0.85,"y":5.23},{"x":0.95,"y":5.26},{"x":1.05,"y":5.24},{"x":1.15,"y":5.27},
{"x":0.63,"y":5.4},{"x":0.73,"y":5.42},{"x":0.83,"y":5.38},{"x":0.93,"y":5.41},{"x":1.03,"y":5.39},{"x":1.13,"y":5.42},{"x":1.2,"y":5.37},
{"x":0.68,"y":5.55},{"x":0.78,"y":5.57},{"x":0.88,"y":5.53},{"x":0.98,"y":5.56},{"x":1.08,"y":5.54},{"x":1.17,"y":5.57},
{"x":0.67,"y":5.7},{"x":0.77,"y":5.72},{"x":0.87,"y":5.68},{"x":0.97,"y":5.71},{"x":1.07,"y":5.69},{"x":1.16,"y":5.72},
{"x":0.72,"y":5.85},{"x":0.82,"y":5.87},{"x":0.92,"y":5.83},{"x":1.02,"y":5.86},{"x":1.12,"y":5.84},
{"x":0.74,"y":6.0},{"x":0.84,"y":6.02},{"x":0.94,"y":5.98},{"x":1.04,"y":6.01},{"x":1.14,"y":5.99},
{"x":0.78,"y":6.15},{"x":0.88,"y":6.17},{"x":0.98,"y":6.13},{"x":1.08,"y":6.16},{"x":1.17,"y":6.14},
{"x":0.8,"y":6.3},{"x":0.9,"y":6.32},{"x":1.0,"y":6.28},{"x":1.1,"y":6.31},
{"x":0.84,"y":6.45},{"x":0.94,"y":6.47},{"x":1.04,"y":6.43},{"x":1.14,"y":6.46},
{"x":0.88,"y":6.6},{"x":0.98,"y":6.62},{"x":1.08,"y":6.58},{"x":1.18,"y":6.61},
{"x":0.9,"y":6.75},{"x":1.0,"y":6.77},{"x":1.1,"y":6.73},{"x":1.2,"y":6.76},
{"x":0.95,"y":6.9},{"x":1.05,"y":6.92},{"x":1.15,"y":6.88},
{"x":0.98,"y":7.05},{"x":1.08,"y":7.07},{"x":1.18,"y":7.03},
{"x":1.03,"y":7.2},{"x":1.13,"y":7.22},{"x":1.21,"y":7.18},
{"x":1.06,"y":7.35},{"x":1.16,"y":7.37},
{"x":1.1,"y":7.5},{"x":1.2,"y":7.52},
{"x":1.14,"y":7.65},{"x":1.22,"y":7.67},
{"x":0.25,"y":1.87},{"x":0.35,"y":1.88},{"x":0.45,"y":1.86},{"x":0.55,"y":1.88},{"x":0.65,"y":1.87},{"x":0.75,"y":1.86},{"x":0.85,"y":1.88},{"x":0.95,"y":1.87},{"x":1.05,"y":1.86},{"x":1.15,"y":1.88},{"x":1.25,"y":1.87},
{"x":0.26,"y":2.02},{"x":0.36,"y":2.03},{"x":0.46,"y":2.01},{"x":0.56,"y":2.03},{"x":0.66,"y":2.02},{"x":0.76,"y":2.01},{"x":0.86,"y":2.03},{"x":0.96,"y":2.02},{"x":1.06,"y":2.01},{"x":1.16,"y":2.03},{"x":1.26,"y":2.02},
{"x":0.27,"y":2.17},{"x":0.37,"y":2.18},{"x":0.47,"y":2.16},{"x":0.57,"y":2.18},{"x":0.67,"y":2.17},{"x":0.77,"y":2.16},{"x":0.87,"y":2.18},{"x":0.97,"y":2.17},{"x":1.07,"y":2.16},{"x":1.17,"y":2.18},
{"x":0.29,"y":2.32},{"x":0.39,"y":2.33},{"x":0.49,"y":2.31},{"x":0.59,"y":2.33},{"x":0.69,"y":2.32},{"x":0.79,"y":2.31},{"x":0.89,"y":2.33},{"x":0.99,"y":2.32},{"x":1.09,"y":2.31},{"x":1.19,"y":2.33},
{"x":0.31,"y":2.47},{"x":0.41,"y":2.48},{"x":0.51,"y":2.46},{"x":0.61,"y":2.48},{"x":0.71,"y":2.47},{"x":0.81,"y":2.46},{"x":0.91,"y":2.48},{"x":1.01,"y":2.47},{"x":1.11,"y":2.46},{"x":1.21,"y":2.48},
{"x":0.33,"y":2.62},{"x":0.43,"y":2.63},{"x":0.53,"y":2.61},{"x":0.63,"y":2.63},{"x":0.73,"y":2.62},{"x":0.83,"y":2.61},{"x":0.93,"y":2.63},{"x":1.03,"y":2.62},{"x":1.13,"y":2.61},
{"x":0.35,"y":2.77},{"x":0.45,"y":2.78},{"x":0.55,"y":2.76},{"x":0.65,"y":2.78},{"x":0.75,"y":2.77},{"x":0.85,"y":2.76},{"x":0.95,"y":2.78},{"x":1.05,"y":2.77},{"x":1.15,"y":2.76},
{"x":0.36,"y":2.92},{"x":0.46,"y":2.93},{"x":0.56,"y":2.91},{"x":0.66,"y":2.93},{"x":0.76,"y":2.92},{"x":0.86,"y":2.91},{"x":0.96,"y":2.93},{"x":1.06,"y":2.92},{"x":1.16,"y":2.91},
{"x":0.38,"y":3.07},{"x":0.48,"y":3.08},{"x":0.58,"y":3.06},{"x":0.68,"y":3.08},{"x":0.78,"y":3.07},{"x":0.88,"y":3.06},{"x":0.98,"y":3.08},{"x":1.08,"y":3.07},{"x":1.18,"y":3.06},
{"x":0.4,"y":3.22},{"x":0.5,"y":3.23},{"x":0.6,"y":3.21},{"x":0.7,"y":3.23},{"x":0.8,"y":3.22},{"x":0.9,"y":3.21},{"x":1.0,"y":3.23},{"x":1.1,"y":3.22},{"x":1.2,"y":3.21},
{"x":0.42,"y":3.37},{"x":0.52,"y":3.38},{"x":0.62,"y":3.36},{"x":0.72,"y":3.38},{"x":0.82,"y":3.37},{"x":0.92,"y":3.36},{"x":1.02,"y":3.38},{"x":1.12,"y":3.37},
{"x":0.44,"y":3.52},{"x":0.54,"y":3.53},{"x":0.64,"y":3.51},{"x":0.74,"y":3.53},{"x":0.84,"y":3.52},{"x":0.94,"y":3.51},{"x":1.04,"y":3.53},{"x":1.14,"y":3.52},
{"x":0.46,"y":3.67},{"x":0.56,"y":3.68},{"x":0.66,"y":3.66},{"x":0.76,"y":3.68},{"x":0.86,"y":3.67},{"x":0.96,"y":3.66},{"x":1.06,"y":3.68},{"x":1.16,"y":3.67},
{"x":0.48,"y":3.82},{"x":0.58,"y":3.83},{"x":0.68,"y":3.81},{"x":0.78,"y":3.83},{"x":0.88,"y":3.82},{"x":0.98,"y":3.81},{"x":1.08,"y":3.83},{"x":1.18,"y":3.82},
{"x":0.49,"y":3.97},{"x":0.59,"y":3.98},{"x":0.69,"y":3.96},{"x":0.79,"y":3.98},{"x":0.89,"y":3.97},{"x":0.99,"y":3.96},{"x":1.09,"y":3.98},
{"x":0.51,"y":4.12},{"x":0.61,"y":4.13},{"x":0.71,"y":4.11},{"x":0.81,"y":4.13},{"x":0.91,"y":4.12},{"x":1.01,"y":4.11},{"x":1.11,"y":4.13},
{"x":0.53,"y":4.27},{"x":0.63,"y":4.28},{"x":0.73,"y":4.26},{"x":0.83,"y":4.28},{"x":0.93,"y":4.27},{"x":1.03,"y":4.26},{"x":1.13,"y":4.28},
{"x":0.55,"y":4.42},{"x":0.65,"y":4.43},{"x":0.75,"y":4.41},{"x":0.85,"y":4.43},{"x":0.95,"y":4.42},{"x":1.05,"y":4.41},{"x":1.15,"y":4.43},
{"x":0.57,"y":4.57},{"x":0.67,"y":4.58},{"x":0.77,"y":4.56},{"x":0.87,"y":4.58},{"x":0.97,"y":4.57},{"x":1.07,"y":4.56},{"x":1.17,"y":4.58},
{"x":0.59,"y":4.72},{"x":0.69,"y":4.73},{"x":0.79,"y":4.71},{"x":0.89,"y":4.73},{"x":0.99,"y":4.72},{"x":1.09,"y":4.71},
{"x":0.61,"y":4.87},{"x":0.71,"y":4.88},{"x":0.81,"y":4.86},{"x":0.91,"y":4.88},{"x":1.01,"y":4.87},{"x":1.11,"y":4.86},
{"x":0.63,"y":5.02},{"x":0.73,"y":5.03},{"x":0.83,"y":5.01},{"x":0.93,"y":5.03},{"x":1.03,"y":5.02},{"x":1.13,"y":5.01},
{"x":0.65,"y":5.17},{"x":0.75,"y":5.18},{"x":0.85,"y":5.16},{"x":0.95,"y":5.18},{"x":1.05,"y":5.17},{"x":1.15,"y":5.16},
{"x":0.66,"y":5.32},{"x":0.76,"y":5.33},{"x":0.86,"y":5.31},{"x":0.96,"y":5.33},{"x":1.06,"y":5.32},{"x":1.16,"y":5.31},
{"x":0.68,"y":5.47},{"x":0.78,"y":5.48},{"x":0.88,"y":5.46},{"x":0.98,"y":5.48},{"x":1.08,"y":5.47},
{"x":0.7,"y":5.62},{"x":0.8,"y":5.63},{"x":0.9,"y":5.61},{"x":1.0,"y":5.63},{"x":1.1,"y":5.62},
{"x":0.72,"y":5.77},{"x":0.82,"y":5.78},{"x":0.92,"y":5.76},{"x":1.02,"y":5.78},{"x":1.12,"y":5.77},
{"x":0.75,"y":5.92},{"x":0.85,"y":5.93},{"x":0.95,"y":5.91},{"x":1.05,"y":5.93},{"x":1.15,"y":5.92},
{"x":0.78,"y":6.07},{"x":0.88,"y":6.08},{"x":0.98,"y":6.06},{"x":1.08,"y":6.08},
{"x":0.81,"y":6.22},{"x":0.91,"y":6.23},{"x":1.01,"y":6.21},{"x":1.11,"y":6.23},
{"x":0.84,"y":6.37},{"x":0.94,"y":6.38},{"x":1.04,"y":6.36},{"x":1.14,"y":6.38},
{"x":0.88,"y":6.52},{"x":0.98,"y":6.53},{"x":1.08,"y":6.51},{"x":1.18,"y":6.53},
{"x":0.91,"y":6.67},{"x":1.01,"y":6.68},{"x":1.11,"y":6.66},
{"x":0.94,"y":6.82},{"x":1.04,"y":6.83},{"x":1.14,"y":6.81},
{"x":0.98,"y":6.97},{"x":1.08,"y":6.98},{"x":1.18,"y":6.96},
{"x":1.02,"y":7.12},{"x":1.12,"y":7.13},
{"x":1.06,"y":7.27},{"x":1.16,"y":7.28},
{"x":1.1,"y":7.42},{"x":1.2,"y":7.43},
{"x":1.14,"y":7.57},
{"x":-2.1,"y":9.42},{"x":-2.26,"y":8.17},{"x":-1.97,"y":8.17},{"x":-1.39,"y":7.8},{"x":-2.37,"y":7.28},{"x":-2.66,"y":6.75},{"x":-1.8,"y":6.49},{"x":-2.24,"y":5.97},{"x":-2.26,"y":5.73},{"x":-2.84,"y":5.31},{"x":-1.87,"y":5.55},{"x":-2.64,"y":4.66},{"x":-2.49,"y":4.69},{"x":-2.33,"y":4.5},{"x":-2.07,"y":4.56},{"x":-1.72,"y":4.85},{"x":-2.32,"y":4.24},{"x":-2.14,"y":4.27},{"x":-2.86,"y":4.27},{"x":-2.55,"y":4.06},{"x":-2.43,"y":3.95},{"x":-2.03,"y":4.95},{"x":-1.83,"y":4.66},{"x":-2.84,"y":3.61},{"x":-2.7,"y":3.51},{"x":-2.76,"y":3.3},{"x":-2.28,"y":3.56},{"x":-2.03,"y":3.87},{"x":-2.07,"y":3.61},{"x":-3.05,"y":3.22},{"x":-2.86,"y":2.67},{"x":-2.45,"y":2.64},{"x":-2.55,"y":2.43},{"x":-2.22,"y":2.91},{"x":-2.12,"y":2.7},{"x":-1.87,"y":2.85},{"x":-2.51,"y":2.15},{"x":-2.18,"y":2.2},{"x":-1.93,"y":2.25},{"x":-1.87,"y":2.51},{"x":-1.72,"y":2.59},{"x":-1.7,"y":3.3},{"x":-1.66,"y":3.82},{"x":-1.6,"y":4.42},{"x":-1.83,"y":5.26},{"x":-1.62,"y":6.1},{"x":-1.62,"y":6.65},{"x":-1.45,"y":6.78},{"x":-1.66,"y":6.88},{"x":-1.68,"y":7.67},{"x":-1.51,"y":7.49},{"x":-1.24,"y":7.15},{"x":-0.98,"y":6.83},{"x":-1.55,"y":2.1},{"x":-1.6,"y":2.4},{"x":-1.75,"y":2.0},{"x":-1.5,"y":3.0},{"x":-1.55,"y":3.6},{"x":-1.75,"y":3.95},{"x":-1.5,"y":4.1},{"x":-1.9,"y":3.3},{"x":-1.95,"y":4.2},{"x":-1.55,"y":5.0},{"x":-1.65,"y":5.4},{"x":-1.7,"y":5.9},{"x":-1.55,"y":5.75},{"x":-1.9,"y":6.1},{"x":-2.0,"y":2.0},{"x":-1.45,"y":2.7},{"x":-1.8,"y":1.85},{"x":-2.35,"y":1.9},{"x":-1.6,"y":1.82},{"x":-1.83,"y":6.9},{"x":-1.48,"y":2.3},{"x":-1.46,"y":3.9},{"x":-1.48,"y":4.6},{"x":-1.52,"y":5.35},{"x":-1.58,"y":6.3},{"x":-1.7,"y":7.1},{"x":-1.1,"y":7.45},{"x":-1.44,"y":7.3},
{"x":-1.42,"y":2.02},{"x":-1.5,"y":2.55},{"x":-1.4,"y":2.85},{"x":-1.38,"y":3.25},{"x":-1.42,"y":3.55},{"x":-1.38,"y":4.0},{"x":-1.4,"y":4.45},{"x":-1.45,"y":4.85},{"x":-1.47,"y":5.2},{"x":-1.5,"y":5.6},{"x":-1.52,"y":5.95},{"x":-1.48,"y":6.55},{"x":-1.43,"y":7.0},{"x":-1.6,"y":2.8},{"x":-1.62,"y":3.1},{"x":-1.58,"y":4.15},{"x":-1.62,"y":5.15},{"x":-1.68,"y":4.9},{"x":-1.76,"y":3.5},{"x":-1.8,"y":2.35},{"x":-1.65,"y":2.2},{"x":-1.95,"y":2.65},{"x":-1.78,"y":4.3},{"x":-1.6,"y":5.65},{"x":-1.72,"y":6.2},{"x":-1.95,"y":5.8},{"x":-2.0,"y":3.1},{"x":-1.7,"y":1.95},{"x":-1.5,"y":1.9},{"x":-2.15,"y":3.3},{"x":-1.85,"y":4.0},{"x":-2.2,"y":5.1},
{"x":2.12,"y":6.44},{"x":1.95,"y":5.5},{"x":2.24,"y":5.29},{"x":1.72,"y":5.0},{"x":2.07,"y":4.97},{"x":1.6,"y":4.79},{"x":1.7,"y":4.4},{"x":2.39,"y":4.27},{"x":1.97,"y":3.93},{"x":2.14,"y":3.64},{"x":1.58,"y":3.61},{"x":1.78,"y":3.06},{"x":1.97,"y":2.85},{"x":2.39,"y":2.88},{"x":1.83,"y":2.51},{"x":2.14,"y":2.28},{"x":1.93,"y":2.12},{"x":1.49,"y":2.22},{"x":1.49,"y":6.36},{"x":1.45,"y":5.39},{"x":1.41,"y":6.62},{"x":1.33,"y":7.41},{"x":1.18,"y":7.83},{"x":1.45,"y":3.17},{"x":1.6,"y":4.16},{"x":1.45,"y":4.35},{"x":1.41,"y":5.34},{"x":1.39,"y":6.05},{"x":1.35,"y":7.36},{"x":1.1,"y":7.7},{"x":1.04,"y":7.57},{"x":1.3,"y":1.9},{"x":1.45,"y":1.85},{"x":1.38,"y":2.5},{"x":1.35,"y":3.5},{"x":1.3,"y":4.9},{"x":1.35,"y":2.0},{"x":1.55,"y":2.7},{"x":1.65,"y":1.95},{"x":1.32,"y":5.8},{"x":1.3,"y":6.8},{"x":1.5,"y":2.9},{"x":1.26,"y":7.1},{"x":1.36,"y":4.2},{"x":1.33,"y":3.8},{"x":1.3,"y":5.2},{"x":1.52,"y":4.0},{"x":1.42,"y":2.3},
{"x":1.36,"y":2.6},{"x":1.33,"y":3.0},{"x":1.3,"y":3.3},{"x":1.3,"y":3.7},{"x":1.28,"y":4.1},{"x":1.28,"y":4.6},{"x":1.27,"y":5.0},{"x":1.27,"y":5.5},{"x":1.26,"y":6.0},{"x":1.28,"y":6.4},{"x":1.3,"y":7.0},{"x":1.42,"y":2.75},{"x":1.4,"y":3.9},{"x":1.55,"y":3.3},{"x":1.5,"y":5.05},{"x":1.62,"y":2.4},{"x":1.7,"y":2.15},{"x":1.55,"y":1.95},{"x":1.75,"y":3.5},{"x":1.85,"y":4.3},{"x":1.4,"y":4.7},{"x":1.62,"y":5.6},{"x":1.8,"y":2.8},{"x":1.38,"y":5.7},{"x":1.45,"y":6.9}
],
"genes": [
{"gene":"GSPT1","x":-4.7,"y":11.11,"lx":-4.26,"ly":11.58},
{"gene":"IKZF3","x":-5.51,"y":5.46,"lx":-5.79,"ly":5.93},
{"gene":"GSPT2","x":-4.78,"y":5.28,"lx":-4.33,"ly":4.79},
{"gene":"ZFP91","x":-2.06,"y":6.91,"lx":-1.61,"ly":7.39},
{"gene":"IKZF1","x":-2.0,"y":1.94,"lx":-2.43,"ly":1.46}
]
},
"layer": [
{
"data": {"name": "pts"},
"mark": {"type": "circle", "size": 80, "opacity": 0.5},
"encoding": {
"x": {"field": "x", "type": "quantitative", "scale": {"domain": [-6.57, 5.55], "nice": false, "zero": false},
"axis": {"title": "log2FC E14/DMSO", "values": [-6, -4.5, -3, -1.5, 0, 1.5, 3, 4.5], "format": "d",
"labelExpr": "datum.value % 3 === 0 ? datum.label : ''",
"grid": true, "gridColor": "#EBEBEB", "gridWidth": {"condition": {"test": "datum.value % 3 === 0", "value": 4.5}, "value": 3},
"domain": true, "domainColor": "black", "domainWidth": 4.5,
"ticks": true, "tickColor": "#333333", "tickWidth": 3, "tickSize": 5, "tickOpacity": {"condition": {"test": "datum.value % 3 === 0", "value": 1}, "value": 0},
"labelFont": "Liberation Sans", "labelFontSize": 20, "labelColor": "black", "labelBaseline": "alphabetic", "labelPadding": 23, "labelFlush": false,
"titleFont": "Liberation Sans", "titleFontSize": 20, "titleFontWeight": "normal", "titleColor": "black", "titleX": 267, "titleY": 58, "titleBaseline": "alphabetic", "titleAlign": "center"}},
"y": {"field": "y", "type": "quantitative", "scale": {"domain": [-0.63, 12.63], "nice": false, "zero": false},
"axis": {"title": "-log10(p\u2212value)", "values": [0, 1.25, 2.5, 3.75, 5, 6.25, 7.5, 8.75, 10, 11.25, 12.5],
"labelExpr": "datum.value % 2.5 === 0 ? format(datum.value, '.1f') : ''",
"grid": true, "gridColor": "#EBEBEB", "gridWidth": {"condition": {"test": "datum.value % 2.5 === 0", "value": 4.5}, "value": 3},
"domain": true, "domainColor": "black", "domainWidth": 4.5,
"ticks": true, "tickColor": "#333333", "tickWidth": 3, "tickSize": 5, "tickOpacity": {"condition": {"test": "datum.value % 2.5 === 0", "value": 1}, "value": 0},
"labelFont": "Liberation Sans", "labelFontSize": 20, "labelColor": "black", "labelPadding": 8, "labelFlush": false,
"titleFont": "Liberation Sans", "titleFontSize": 20, "titleFontWeight": "normal", "titleColor": "black", "titleX": -66, "titleY": 251, "titleBaseline": "middle", "titleAlign": "center", "titleAngle": -90}},
"color": {"condition": {"test": "datum.y >= 1.75", "value": "#1B9E77"}, "value": "#666666"}
}
},
{
"data": {"values": [{"fdr": 1.75}]},
"mark": {"type": "rule", "strokeDash": [24.5, 24.5], "strokeWidth": 5.5, "color": "black", "opacity": 0.6},
"encoding": {"y": {"field": "fdr", "type": "quantitative", "scale": {"domain": [-0.63, 12.63], "nice": false, "zero": false}}}
},
{
"data": {"name": "genes"},
"mark": {"type": "circle", "size": 80, "color": "#FF0000", "opacity": 1},
"encoding": {
"x": {"field": "x", "type": "quantitative", "scale": {"domain": [-6.57, 5.55], "nice": false, "zero": false}},
"y": {"field": "y", "type": "quantitative", "scale": {"domain": [-0.63, 12.63], "nice": false, "zero": false}}
}
},
{
"data": {"name": "genes"},
"mark": {"type": "point", "filled": true, "fill": "white", "stroke": "black", "strokeWidth": 1.2, "size": 10000, "opacity": 1, "fillOpacity": 1, "strokeOpacity": 1},
"encoding": {
"x": {"field": "lx", "type": "quantitative", "scale": {"domain": [-6.57, 5.55], "nice": false, "zero": false}},
"y": {"field": "ly", "type": "quantitative", "scale": {"domain": [-0.63, 12.63], "nice": false, "zero": false}},
"shape": {"field": "gene", "type": "nominal", "legend": null, "scale": {"domain": ["GSPT1", "GSPT2", "IKZF3", "ZFP91", "IKZF1"], "range": [
"M-0.65,-0.24L0.65,-0.24Q0.73,-0.24,0.73,-0.16L0.73,0.16Q0.73,0.24,0.65,0.24L-0.65,0.24Q-0.73,0.24,-0.73,0.16L-0.73,-0.16Q-0.73,-0.24,-0.65,-0.24Z",
"M-0.65,-0.24L0.65,-0.24Q0.73,-0.24,0.73,-0.16L0.73,0.16Q0.73,0.24,0.65,0.24L-0.65,0.24Q-0.73,0.24,-0.73,0.16L-0.73,-0.16Q-0.73,-0.24,-0.65,-0.24Z",
"M-0.55,-0.24L0.55,-0.24Q0.63,-0.24,0.63,-0.16L0.63,0.16Q0.63,0.24,0.55,0.24L-0.55,0.24Q-0.63,0.24,-0.63,0.16L-0.63,-0.16Q-0.63,-0.24,-0.55,-0.24Z",
"M-0.6,-0.24L0.6,-0.24Q0.68,-0.24,0.68,-0.16L0.68,0.16Q0.68,0.24,0.6,0.24L-0.6,0.24Q-0.68,0.24,-0.68,0.16L-0.68,-0.16Q-0.68,-0.24,-0.6,-0.24Z",
"M-0.54,-0.24L0.54,-0.24Q0.62,-0.24,0.62,-0.16L0.62,0.16Q0.62,0.24,0.54,0.24L-0.54,0.24Q-0.62,0.24,-0.62,0.16L-0.62,-0.16Q-0.62,-0.24,-0.54,-0.24Z"
]}}
}
},
{
"data": {"name": "genes"},
"mark": {"type": "text", "font": "Liberation Sans", "fontSize": 18.5, "color": "black", "align": "center", "baseline": "middle"},
"encoding": {
"x": {"field": "lx", "type": "quantitative", "scale": {"domain": [-6.57, 5.55], "nice": false, "zero": false}},
"y": {"field": "ly", "type": "quantitative", "scale": {"domain": [-0.63, 12.63], "nice": false, "zero": false}},
"text": {"field": "gene"}
}
},
{
"data": {"values": [{"t": "5% FDR", "x": 5.16, "y": 2.05}, {"t": "E14", "x": 4.92, "y": -0.29}]},
"mark": {"type": "text", "font": "Liberation Sans", "fontSize": 20, "color": "black", "align": "right", "baseline": "alphabetic"},
"encoding": {
"x": {"field": "x", "type": "quantitative", "scale": {"domain": [-6.57, 5.55], "nice": false, "zero": false}},
"y": {"field": "y", "type": "quantitative", "scale": {"domain": [-0.63, 12.63], "nice": false, "zero": false}},
"text": {"field": "t"}
}
},
{
"data": {"values": [{"t": "DMSO", "x": -6.15, "y": -0.29}]},
"mark": {"type": "text", "font": "Liberation Sans", "fontSize": 20, "color": "black", "align": "left", "baseline": "alphabetic"},
"encoding": {
"x": {"field": "x", "type": "quantitative", "scale": {"domain": [-6.57, 5.55], "nice": false, "zero": false}},
"y": {"field": "y", "type": "quantitative", "scale": {"domain": [-0.63, 12.63], "nice": false, "zero": false}},
"text": {"field": "t"}
}
}
]
}
